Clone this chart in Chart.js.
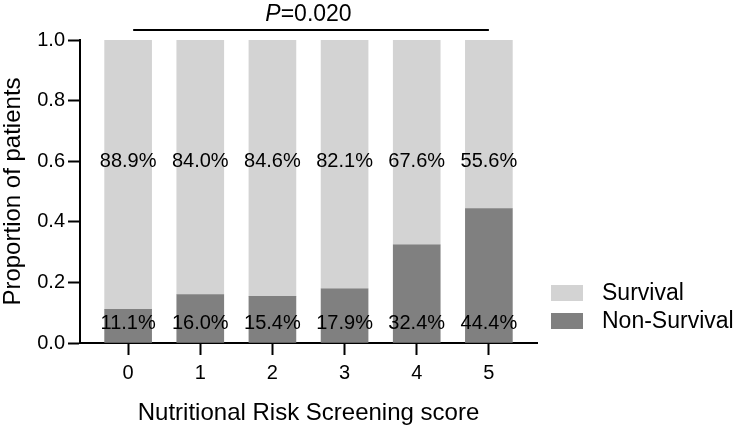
<!DOCTYPE html>
<html>
<head>
<meta charset="utf-8">
<script src="https://cdn.jsdelivr.net/npm/chart.js@4/dist/chart.umd.min.js"></script>
<style>
  html, body { margin: 0; padding: 0; background: #fff; }
  #wrap { width: 738px; height: 432px; }
</style>
</head>
<body>
<div id="wrap"><canvas id="c" width="738" height="432"></canvas></div>
<script>
const categories = ['0', '1', '2', '3', '4', '5'];
const survival = [0.889, 0.840, 0.846, 0.821, 0.676, 0.556];
const nonSurvival = [0.111, 0.160, 0.154, 0.179, 0.324, 0.444];
const survivalLabels = ['88.9%', '84.0%', '84.6%', '82.1%', '67.6%', '55.6%'];
const nonSurvivalLabels = ['11.1%', '16.0%', '15.4%', '17.9%', '32.4%', '44.4%'];
const yTicks = [0, 0.2, 0.4, 0.6, 0.8, 1.0];
const pText = '0.020';

const FONT = "'Liberation Sans', Arial, Helvetica, sans-serif";
const LIGHT = '#d3d3d3';
const DARK = '#808080';

const xPos = categories.map((c, i) => i);

const overlay = {
  id: 'overlay',
  afterDatasetsDraw(chart) {
    const ctx = chart.ctx;
    const xs = chart.scales.x, ys = chart.scales.y;
    ctx.save();
    ctx.fillStyle = '#000';
    ctx.textAlign = 'center';
    ctx.textBaseline = 'middle';
    ctx.font = '20px ' + FONT;
    xPos.forEach((v, i) => {
      const px = xs.getPixelForValue(v);
      ctx.fillText(survivalLabels[i], px, ys.getPixelForValue(0.6));
      ctx.fillText(nonSurvivalLabels[i], px, ys.getPixelForValue(0.065));
    });

    // significance line and P text
    const ly = ys.getPixelForValue(1.033);
    ctx.strokeStyle = '#000';
    ctx.lineWidth = 2;
    ctx.beginPath();
    ctx.moveTo(xs.getPixelForValue(0.07), ly);
    ctx.lineTo(xs.getPixelForValue(5), ly);
    ctx.stroke();
    const cx = (xs.left + xs.right) / 2;
    ctx.font = 'italic 23px ' + FONT;
    const pw = ctx.measureText('P').width;
    ctx.font = '23px ' + FONT;
    const rest = '=' + pText;
    const rw = ctx.measureText(rest).width;
    const startX = cx - (pw + rw) / 2;
    ctx.textAlign = 'left';
    ctx.textBaseline = 'alphabetic';
    ctx.font = 'italic 23px ' + FONT;
    ctx.fillText('P', startX, 21);
    ctx.font = '23px ' + FONT;
    ctx.fillText(rest, startX + pw, 21);

    // axis titles
    ctx.textAlign = 'center';
    ctx.textBaseline = 'middle';
    ctx.font = '24px ' + FONT;
    ctx.fillText('Nutritional Risk Screening score', cx, 413);
    ctx.save();
    ctx.translate(13, (ys.top + ys.bottom) / 2);
    ctx.rotate(-Math.PI / 2);
    ctx.fillText('Proportion of patients', 0, 0);
    ctx.restore();

    // legend
    const items = [
      { label: chart.data.datasets[1].label, color: chart.data.datasets[1].backgroundColor, y: 293 },
      { label: chart.data.datasets[0].label, color: chart.data.datasets[0].backgroundColor, y: 321 }
    ];
    ctx.font = '23px ' + FONT;
    ctx.textAlign = 'left';
    items.forEach(it => {
      ctx.fillStyle = it.color;
      ctx.fillRect(551, it.y - 8, 32, 16);
      ctx.fillStyle = '#000';
      ctx.fillText(it.label, 602, it.y + 1);
    });
    ctx.restore();
  }
};

new Chart(document.getElementById('c'), {
  type: 'bar',
  data: {
    datasets: [
      {
        label: 'Non-Survival',
        data: xPos.map((x, i) => ({ x: x, y: nonSurvival[i] })),
        backgroundColor: DARK,
        barThickness: 47,
        borderWidth: 0
      },
      {
        label: 'Survival',
        data: xPos.map((x, i) => ({ x: x, y: survival[i] })),
        backgroundColor: LIGHT,
        barThickness: 47,
        borderWidth: 0
      }
    ]
  },
  options: {
    responsive: false,
    animation: false,
    devicePixelRatio: 1,
    layout: { padding: { top: 40, right: 201, left: 0, bottom: 0 } },
    plugins: {
      legend: { display: false },
      tooltip: { enabled: false }
    },
    scales: {
      x: {
        type: 'linear',
        stacked: true,
        offset: false,
        min: -0.667,
        max: 5.667,
        afterBuildTicks(scale) { scale.ticks = xPos.map(v => ({ value: v })); },
        afterFit(scale) { scale.height = 89; },
        grid: { display: true, offset: false, drawOnChartArea: false, drawTicks: true, tickLength: 12, tickWidth: 2, tickColor: '#000' },
        border: { display: true, width: 2, color: '#000' },
        ticks: {
          autoSkip: false,
          includeBounds: false,
          stepSize: 1,
          maxRotation: 0,
          padding: 6,
          color: '#000',
          font: { family: FONT, size: 20 },
          callback: (v) => categories[Math.round(v)]
        }
      },
      y: {
        type: 'linear',
        stacked: true,
        min: 0,
        max: 1,
        afterBuildTicks(scale) { scale.ticks = yTicks.map(v => ({ value: v })); },
        afterFit(scale) { scale.width = 80; },
        grid: { display: true, drawOnChartArea: false, drawTicks: true, tickLength: 12, tickWidth: 2, tickColor: '#000' },
        border: { display: true, width: 2, color: '#000' },
        ticks: {
          padding: 3,
          color: '#000',
          font: { family: FONT, size: 20 },
          callback: (v) => v.toFixed(1)
        }
      }
    }
  },
  plugins: [overlay]
});
</script>
</body>
</html>
